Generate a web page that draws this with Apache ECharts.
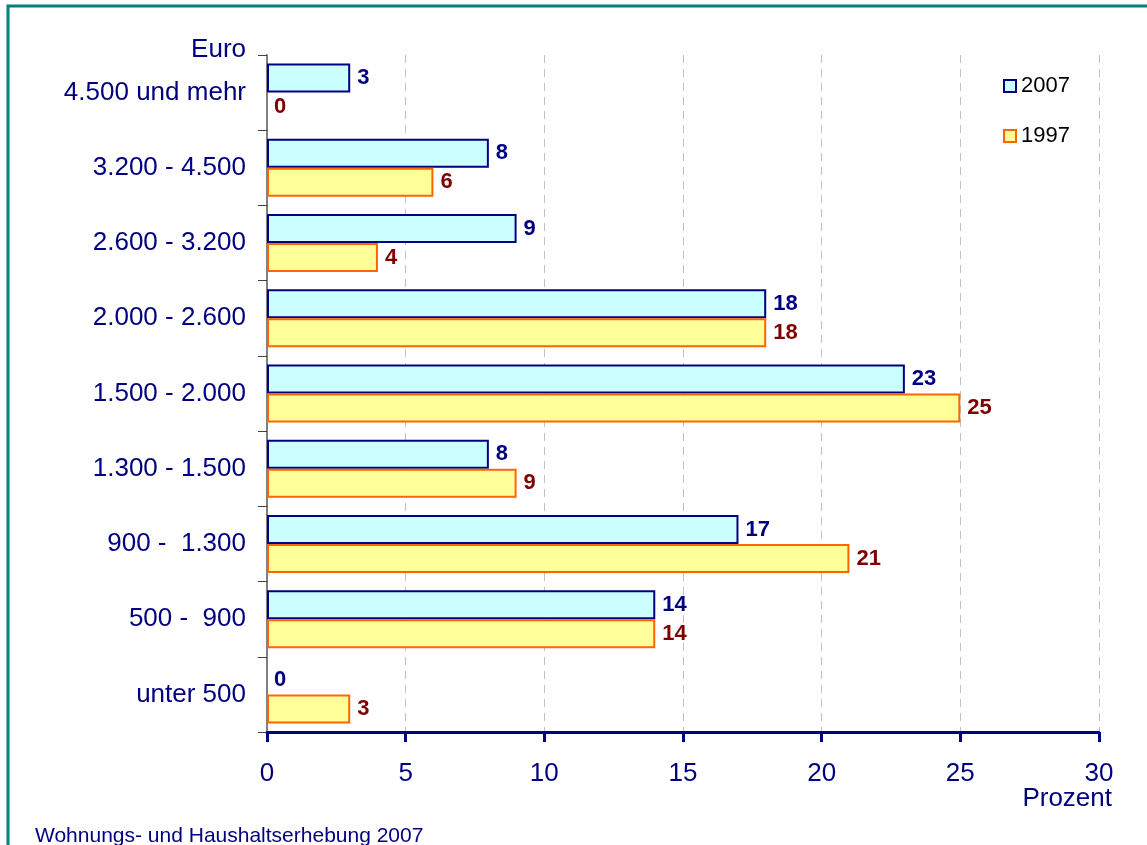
<!DOCTYPE html>
<html>
<head>
<meta charset="utf-8">
<style>
  html, body { margin: 0; padding: 0; background: #ffffff; }
  #chart { width: 1147px; height: 845px; }
</style>
<script src="https://cdn.jsdelivr.net/npm/echarts@6/dist/echarts.min.js"></script>
</head>
<body>
<div id="chart"></div>
<script>
// Household net income brackets (Euro), top to bottom
const categories = [
  '4.500 und mehr',
  '3.200 - 4.500',
  '2.600 - 3.200',
  '2.000 - 2.600',
  '1.500 - 2.000',
  '1.300 - 1.500',
  '900 -  1.300',
  '500 -  900',
  'unter 500'
];
// Share of households in percent
const values2007 = [3, 8, 9, 18, 23, 8, 17, 14, 0];
const values1997 = [0, 6, 4, 18, 25, 9, 21, 14, 3];
const xTicks = [0, 5, 10, 15, 20, 25, 30];

const FONT = "'Liberation Sans', Arial, sans-serif";
const NAVY = '#000080';
const DARKRED = '#800000';

const chart = echarts.init(document.getElementById('chart'), null, { renderer: 'canvas' });

// Zero-length bars keep their label but draw no outline
function toItems(values) {
  return values.map(v => (v === 0 ? { value: v, itemStyle: { borderWidth: 0 } } : v));
}

function barSeries(name, data, fill, border, labelColor) {
  return {
    name: name,
    type: 'bar',
    data: toItems(data),
    barWidth: 29,
    barGap: '0%',
    itemStyle: { color: fill, borderColor: border, borderWidth: 2 },
    label: {
      show: true,
      position: 'right',
      distance: 7,
      color: labelColor,
      fontFamily: FONT,
      fontWeight: 'bold',
      fontSize: 22
    },
    emphasis: { disabled: true }
  };
}

chart.setOption({
  animation: false,
  backgroundColor: '#ffffff',
  grid: { left: 267, right: 48, top: 55, bottom: 113, containLabel: false, outerBoundsMode: 'none' },
  legend: {
    orient: 'vertical',
    left: 998,
    top: 70,
    itemGap: 28,
    itemWidth: 12,
    itemHeight: 12,
    icon: 'rect',
    textStyle: { color: '#000000', fontFamily: FONT, fontSize: 22 },
    data: [
      { name: '2007', itemStyle: { color: '#ccffff', borderColor: NAVY, borderWidth: 2 } },
      { name: '1997', itemStyle: { color: '#ffff99', borderColor: '#ff6600', borderWidth: 2 } }
    ]
  },
  xAxis: {
    type: 'value',
    min: 0,
    max: 30,
    interval: 5,
    axisLine: { show: true, lineStyle: { color: NAVY, width: 3 } },
    axisTick: { show: true, length: 10, lineStyle: { color: NAVY, width: 3 } },
    axisLabel: {
      color: NAVY, fontFamily: FONT, fontSize: 26, margin: 29,
      formatter: v => (xTicks.indexOf(v) >= 0 ? String(v) : '')
    },
    splitLine: { show: true, lineStyle: { color: '#c0c0c0', type: [8, 6], width: 1 } }
  },
  yAxis: {
    type: 'category',
    data: categories,
    inverse: true,
    name: 'Euro',
    nameLocation: 'start',
    nameGap: 5,
    nameTextStyle: {
      color: NAVY, fontFamily: FONT, fontSize: 26,
      align: 'right', verticalAlign: 'middle', padding: [0, 21, 0, 0]
    },
    axisLine: { show: true, lineStyle: { color: '#808080', width: 2 } },
    axisTick: { show: true, length: 9, alignWithLabel: false, lineStyle: { color: '#404040', width: 1 } },
    axisLabel: { color: NAVY, fontFamily: FONT, fontSize: 26, margin: 21 },
    splitLine: { show: false }
  },
  series: [
    barSeries('2007', values2007, '#ccffff', NAVY, NAVY),
    barSeries('1997', values1997, '#ffff99', '#ff6600', DARKRED)
  ],
  graphic: [
    {
      type: 'rect',
      shape: { x: 8, y: 6, width: 1300, height: 1000 },
      style: { fill: null, stroke: '#008080', lineWidth: 3 },
      silent: true
    },
    {
      // value axis title, right-aligned under the last tick label
      type: 'text',
      x: 1112,
      y: 786,
      style: { text: 'Prozent', fill: NAVY, font: '26px ' + FONT, textAlign: 'right', textVerticalAlign: 'top' },
      silent: true
    },
    {
      type: 'text',
      left: 35,
      top: 826,
      style: { text: 'Wohnungs- und Haushaltserhebung 2007', fill: NAVY, font: '21px ' + FONT },
      silent: true
    }
  ]
});
</script>
</body>
</html>
